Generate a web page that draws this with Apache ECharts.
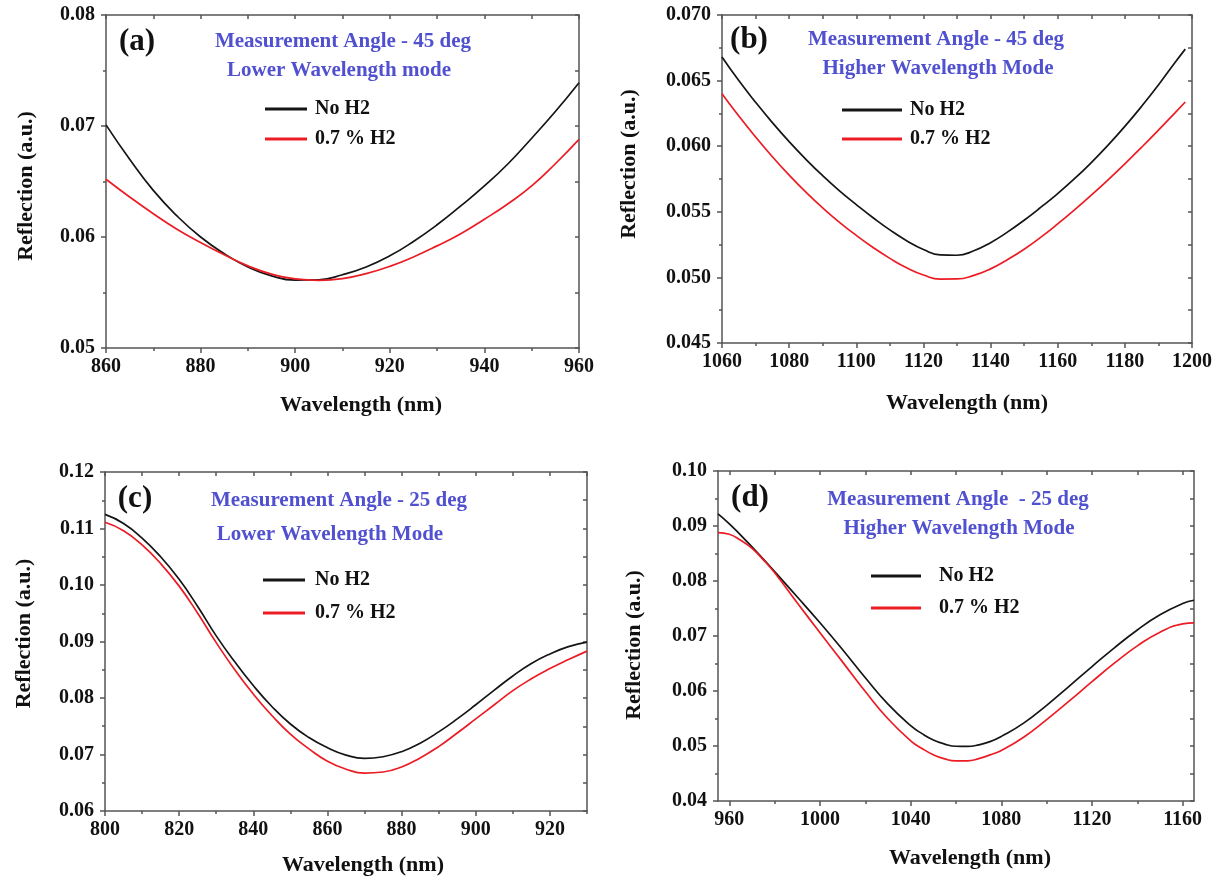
<!DOCTYPE html>
<html><head><meta charset="utf-8">
<script src="https://cdn.jsdelivr.net/npm/echarts@6/dist/echarts.min.js"></script>
<style>html,body{margin:0;padding:0;background:#fff}#c{width:1223px;height:877px}</style>
</head><body><div id="c"></div>
<script>
// ---------- DATA ----------
const seriesNames = ['No H2', '0.7 % H2'];

// (a) 45 deg, lower wavelength mode
const wlA = [860,865,870,875,880,885,890,895,900,905,910,915,920,925,930,935,940,945,950,955,960];
const noH2A = [0.0701,0.0670,0.0642,0.0619,0.0600,0.0585,0.0573,0.0565,0.05612,0.05615,0.0566,0.0573,0.0583,0.0596,0.0611,0.0628,0.0646,0.0666,0.0689,0.0713,0.0739];
const h2A   = [0.0652,0.0636,0.0621,0.0607,0.0595,0.0584,0.0574,0.05665,0.05622,0.0561,0.05625,0.0567,0.05735,0.0582,0.0592,0.0603,0.0616,0.0630,0.0646,0.0666,0.0688];
const xMajorA = [860,880,900,920,940,960];
const xMinorA = [870,890,910,930,950];

// (b) 45 deg, higher wavelength mode
const wlB = [1060,1065,1070,1075,1080,1085,1090,1095,1100,1105,1110,1115,1120,1125,1130,1135,1140,1145,1150,1155,1160,1165,1170,1175,1180,1185,1190,1195,1198];
const noH2B = [0.06680,0.06500,0.06335,0.06180,0.06035,0.05900,0.05775,0.05660,0.05555,0.05455,0.05362,0.05280,0.05213,0.05172,0.05169,0.05203,0.05265,0.05345,0.05436,0.05535,0.05639,0.05752,0.05875,0.06008,0.06151,0.06304,0.06467,0.06640,0.06740];
const h2B   = [0.06400,0.06230,0.06070,0.05920,0.05780,0.05650,0.05530,0.05420,0.05320,0.05228,0.05145,0.05073,0.05018,0.04987,0.04988,0.05015,0.05065,0.05135,0.05215,0.05307,0.05408,0.05515,0.05627,0.05744,0.05866,0.05992,0.06122,0.06256,0.06337];
const xMajorB = [1060,1080,1100,1120,1140,1160,1180,1200];
const xMinorB = [1070,1090,1110,1130,1150,1170,1190];

// (c) 25 deg, lower wavelength mode
const wlC = [800,805,810,815,820,825,830,835,840,845,850,855,860,865,870,875,880,885,890,895,900,905,910,915,920,925,930];
const noH2C = [0.1125,0.1109,0.1083,0.1050,0.1010,0.0962,0.0910,0.0864,0.0822,0.0785,0.0754,0.0730,0.0712,0.0699,0.0693,0.0696,0.0705,0.0720,0.0740,0.0763,0.0788,0.0814,0.0839,0.0861,0.0878,0.0891,0.0899];
const h2C   = [0.1111,0.1096,0.1071,0.1038,0.0998,0.0950,0.0898,0.0850,0.0807,0.0769,0.0736,0.0710,0.0688,0.0674,0.0667,0.0669,0.0678,0.0694,0.0714,0.0738,0.0763,0.0788,0.0813,0.0834,0.0852,0.0868,0.0883];
const xMajorC = [800,820,840,860,880,900,920];
const xMinorC = [810,830,850,870,890,910,930];

// (d) 25 deg, higher wavelength mode
const wlD = [955,960,965,970,975,980,990,1000,1010,1020,1030,1040,1045,1050,1055,1060,1065,1070,1075,1080,1090,1100,1110,1120,1130,1140,1150,1160,1165];
const noH2D = [0.09220,0.09040,0.08835,0.08620,0.08397,0.08170,0.07710,0.07240,0.06750,0.06240,0.05760,0.05370,0.05225,0.05110,0.05035,0.04995,0.04992,0.05020,0.05080,0.05175,0.05420,0.05740,0.06090,0.06445,0.06790,0.07110,0.07385,0.07590,0.07650];
const h2D   = [0.08880,0.08850,0.08740,0.08595,0.08385,0.08150,0.07600,0.07060,0.06525,0.05990,0.05495,0.05095,0.04955,0.04840,0.04765,0.04730,0.04730,0.04770,0.04838,0.04920,0.05165,0.05480,0.05820,0.06170,0.06510,0.06820,0.07070,0.07220,0.07240];
const xMajorD = [960,1000,1040,1080,1120,1160];
const xMinorD = [980,1020,1060,1100,1140];

const labelsA = ['(a)', 'Measurement Angle - 45 deg', 'Lower Wavelength mode'];
const labelsB = ['(b)', 'Measurement Angle - 45 deg', 'Higher Wavelength Mode'];
const labelsC = ['(c)', 'Measurement Angle - 25 deg', 'Lower Wavelength Mode'];
const labelsD = ['(d)', 'Measurement Angle  - 25 deg', 'Higher Wavelength Mode'];
const xTitle = 'Wavelength (nm)';
const yTitle = 'Reflection (a.u.)';

// ---------- LAYOUT / STYLE ----------
const FONT = '"Liberation Serif","Times New Roman",Times,serif';
const AXC = '#555';
const TXT = '#111';
const BLUE = '#5050d0';
const BLACK = '#151515';
const RED = '#ec1c24';

const panels = [
  {grid:{left:106,top:15,width:473,height:333}, xr:[860,960], xMaj:xMajorA, xMin:xMinorA,
   yr:[0.05,0.08], yInt:0.01, yDec:2, wl:wlA, s:[noH2A,h2A],
   xGap:46, xPad:[0,0,0,37], yGap:69, yPad:[0,9,0,0],
   leg:{left:265,top:99,w:42,gap:10,tp:3}, txt:labelsA,
   tpos:[[137,42],[343,42],[339,71]]},
  {grid:{left:722,top:15,width:470,height:328}, xr:[1060,1200], xMaj:xMajorB, xMin:xMinorB,
   yr:[0.045,0.070], yInt:0.005, yDec:3, wl:wlB, s:[noH2B,h2B],
   xGap:49, xPad:[0,0,0,20], yGap:82, yPad:[0,0,0,30],
   leg:{left:842,top:100,w:60,gap:9,tp:3}, txt:labelsB,
   tpos:[[749,40],[936,40],[938,69]]},
  {grid:{left:105,top:472,width:482,height:339}, xr:[800,930], xMaj:xMajorC, xMin:xMinorC,
   yr:[0.06,0.12], yInt:0.01, yDec:2, wl:wlC, s:[noH2C,h2C],
   xGap:43, xPad:[0,0,0,34], yGap:70, yPad:[0,0,0,16],
   leg:{left:263,top:570,w:42,gap:13,tp:5}, txt:labelsC,
   tpos:[[135,499],[339,501],[330,535]]},
  {grid:{left:718,top:471,width:476,height:330}, xr:[955,1165], xMaj:xMajorD, xMin:xMinorD,
   yr:[0.04,0.10], yInt:0.01, yDec:2, wl:wlD, s:[noH2D,h2D],
   xGap:46, xPad:[0,0,0,28], yGap:73, yPad:[0,18,0,0],
   leg:{left:871,top:566,w:50,gap:12,tp:13}, txt:labelsD,
   tpos:[[750,498],[958,500],[959,529]]}
];

const grids = [], xAxes = [], yAxes = [], series = [], legends = [], graphics = [];
const lineStyle = {color: AXC, width: 1.5};
const tickFont = {fontFamily: FONT, fontWeight: 'bold', fontSize: 20, color: TXT};
const titleFont = {fontFamily: FONT, fontWeight: 'bold', fontSize: 22, color: TXT};

panels.forEach((p, g) => {
  grids.push(Object.assign({outerBoundsMode: 'none', containLabel: false}, p.grid));
  const xMainIdx = xAxes.length;
  xAxes.push({
    gridIndex: g, type: 'value', min: p.xr[0], max: p.xr[1], position: 'bottom',
    axisLine: {show: true, onZero: false, lineStyle},
    axisTick: {show: true, inside: false, length: 5, customValues: p.xMaj, lineStyle},
    axisLabel: {show: true, customValues: p.xMaj, margin: 9, formatter: v => String(v), ...tickFont},
    splitLine: {show: false},
    name: xTitle, nameLocation: 'middle', nameGap: p.xGap,
    nameTextStyle: {...titleFont, padding: p.xPad}
  });
  xAxes.push({
    gridIndex: g, type: 'value', min: p.xr[0], max: p.xr[1], position: 'bottom',
    axisLine: {show: false, onZero: false},
    axisTick: {show: true, inside: false, length: 3, customValues: p.xMin, lineStyle},
    axisLabel: {show: false}, splitLine: {show: false}
  });
  xAxes.push({
    gridIndex: g, type: 'value', min: p.xr[0], max: p.xr[1], position: 'top',
    axisLine: {show: true, onZero: false, lineStyle},
    axisTick: {show: true, inside: true, length: 4, customValues: p.xMaj.concat(p.xMin), lineStyle},
    axisLabel: {show: false}, splitLine: {show: false}
  });
  const yMainIdx = yAxes.length;
  yAxes.push({
    gridIndex: g, type: 'value', min: p.yr[0], max: p.yr[1], interval: p.yInt, position: 'left',
    axisLine: {show: true, onZero: false, lineStyle},
    axisTick: {show: true, inside: false, length: 5, lineStyle},
    minorTick: {show: true, splitNumber: 2, length: 3, lineStyle},
    axisLabel: {show: true, margin: 11, formatter: v => v.toFixed(p.yDec), ...tickFont},
    splitLine: {show: false}, minorSplitLine: {show: false},
    name: yTitle, nameLocation: 'middle', nameGap: p.yGap,
    nameTextStyle: {...titleFont, padding: p.yPad}
  });
  yAxes.push({
    gridIndex: g, type: 'value', min: p.yr[0], max: p.yr[1], interval: p.yInt / 2, position: 'right',
    axisLine: {show: true, onZero: false, lineStyle},
    axisTick: {show: true, inside: true, length: 4, lineStyle},
    axisLabel: {show: false}, splitLine: {show: false}
  });
  [BLACK, RED].forEach((col, k) => {
    series.push({
      type: 'line', name: seriesNames[k], xAxisIndex: xMainIdx, yAxisIndex: yMainIdx,
      data: p.wl.map((x, i) => [x, p.s[k][i]]),
      showSymbol: false, smooth: 0.5, clip: true,
      lineStyle: {color: col, width: 1.7}, itemStyle: {color: col}, z: 3 + k
    });
  });
  legends.push({
    orient: 'vertical', left: p.leg.left, top: p.leg.top, padding: 0,
    itemWidth: p.leg.w, itemHeight: 3, itemGap: p.leg.gap, icon: 'rect',
    data: seriesNames, selectedMode: false,
    textStyle: {fontFamily: FONT, fontWeight: 'bold', fontSize: 20, color: TXT, lineHeight: 20, padding: [0, 0, 0, p.leg.tp]}
  });
  p.txt.forEach((t, k) => {
    const big = k === 0;
    graphics.push({
      type: 'text', x: p.tpos[k][0], y: p.tpos[k][1], z: 10,
      style: {
        text: t, fill: big ? TXT : BLUE,
        font: 'bold ' + (big ? 31 : 21) + 'px ' + FONT,
        align: 'center', verticalAlign: 'middle', textAlign: 'center', textVerticalAlign: 'middle'
      }
    });
  });
});

const chart = echarts.init(document.getElementById('c'), null, {renderer: 'canvas'});
chart.setOption({
  animation: false, backgroundColor: '#fff',
  grid: grids, xAxis: xAxes, yAxis: yAxes, series, legend: legends, graphic: graphics
});
</script></body></html>
